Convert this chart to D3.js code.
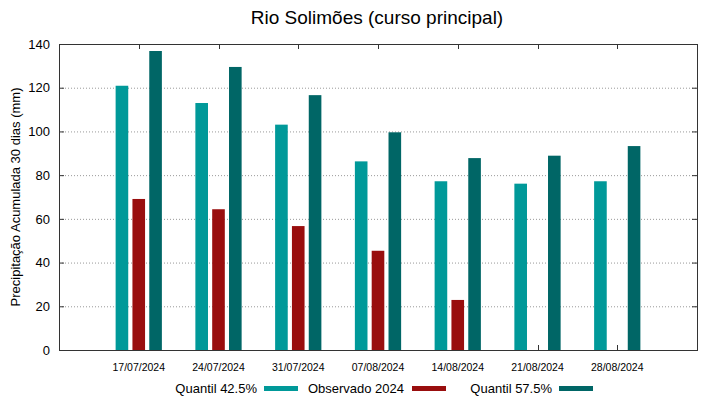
<!DOCTYPE html>
<html>
<head>
<meta charset="utf-8">
<script src="https://cdn.jsdelivr.net/npm/d3@7"></script>
<style>
  body { margin: 0; background: #fff; }
  svg { font-family: "Liberation Sans", Arial, sans-serif; }
</style>
</head>
<body>
<div id="chart"></div>
<script>
// Data
const dates = ['17/07/2024', '24/07/2024', '31/07/2024', '07/08/2024', '14/08/2024', '21/08/2024', '28/08/2024'];
const q425 = [120.9, 113.0, 103.1, 86.3, 77.2, 76.1, 77.2];
const observed = [69.1, 64.4, 56.7, 45.4, 22.9, null, null];
const q575 = [136.8, 129.5, 116.6, 99.6, 87.8, 88.9, 93.3];
const yTicks = [0, 20, 40, 60, 80, 100, 120, 140];

const series = [
  { name: 'Quantil 42.5%', values: q425, color: '#009999' },
  { name: 'Observado 2024', values: observed, color: '#990e0e' },
  { name: 'Quantil 57.5%', values: q575, color: '#006666' }
];

const width = 719;
const height = 399;
const margin = { top: 44, right: 22, bottom: 49, left: 59 };
const innerW = width - margin.left - margin.right;
const innerH = height - margin.top - margin.bottom;

const svg = d3.select('#chart')
  .append('svg')
  .attr('width', width)
  .attr('height', height);

// Scales: categories sit at 1..7 on a 0..8 axis
const x = d3.scaleLinear().domain([0, dates.length + 1]).range([margin.left, margin.left + innerW]);
const y = d3.scaleLinear().domain([0, 140]).range([margin.top + innerH, margin.top]);
const offset = d3.scaleBand().domain(d3.range(series.length)).range([-0.29, 0.29]).paddingInner(0.25);

// Title
svg.append('text')
  .attr('x', 377)
  .attr('y', 24)
  .attr('text-anchor', 'middle')
  .attr('font-size', 19)
  .attr('fill', '#000')
  .text('Rio Solimões (curso principal)');

// Grid
svg.append('g')
  .selectAll('line')
  .data(yTicks.filter(d => d > 0 && d < 140))
  .enter()
  .append('line')
  .attr('x1', margin.left)
  .attr('x2', margin.left + innerW)
  .attr('y1', d => y(d) + 0.5)
  .attr('y2', d => y(d) + 0.5)
  .attr('stroke', '#999')
  .attr('stroke-width', 1)
  .attr('stroke-dasharray', '1,2');

// Axes
const leftAxis = d3.axisLeft(y).tickValues(yTicks).tickSize(0).tickPadding(9);
svg.append('g')
  .attr('transform', `translate(${margin.left},0)`)
  .call(leftAxis)
  .call(g => g.select('.domain').remove())
  .selectAll('text')
  .attr('font-size', 13)
  .attr('font-family', '"Liberation Sans", Arial, sans-serif')
  .attr('fill', '#000');

// y ticks inward on both sides
const tickG = svg.append('g').attr('stroke', '#333').attr('stroke-width', 1);
yTicks.forEach(t => {
  tickG.append('line').attr('x1', margin.left).attr('x2', margin.left + 5).attr('y1', y(t) + 0.5).attr('y2', y(t) + 0.5);
  tickG.append('line').attr('x1', margin.left + innerW - 5).attr('x2', margin.left + innerW).attr('y1', y(t) + 0.5).attr('y2', y(t) + 0.5);
});
// x ticks inward top and bottom
dates.forEach((dd, i) => {
  const xp = Math.round(x(i + 1)) + 0.5;
  tickG.append('line').attr('x1', xp).attr('x2', xp).attr('y1', margin.top).attr('y2', margin.top + 5);
  tickG.append('line').attr('x1', xp).attr('x2', xp).attr('y1', margin.top + innerH).attr('y2', margin.top + innerH - 5);
});

// x labels
svg.append('g')
  .selectAll('text')
  .data(dates)
  .enter()
  .append('text')
  .attr('x', (d, i) => x(i + 1))
  .attr('y', 371)
  .attr('text-anchor', 'middle')
  .attr('font-size', 10.5)
  .attr('fill', '#000')
  .text(d => d);

// Bars
series.forEach((s, si) => {
  svg.append('g')
    .selectAll('rect')
    .data(s.values.map((v, i) => ({ v, i })).filter(d => d.v != null))
    .enter()
    .append('rect')
    .attr('x', d => x(d.i + 1 + offset(si)))
    .attr('width', x(offset.bandwidth()) - x(0))
    .attr('y', d => y(d.v))
    .attr('height', d => y(0) - y(d.v))
    .attr('fill', s.color);
});

// Frame
svg.append('rect')
  .attr('x', margin.left + 0.5)
  .attr('y', margin.top + 0.5)
  .attr('width', innerW)
  .attr('height', innerH)
  .attr('fill', 'none')
  .attr('stroke', '#333')
  .attr('stroke-width', 1);

// Y label
svg.append('text')
  .attr('transform', `translate(20,${margin.top + innerH / 2}) rotate(-90)`)
  .attr('text-anchor', 'middle')
  .attr('font-size', 13)
  .attr('fill', '#000')
  .text('Precipitação Acumulada 30 dias (mm)');

// Legend
const legendPos = [{ tx: 257, sx: 264 }, { tx: 404, sx: 412 }, { tx: 552, sx: 559 }];
const legend = svg.append('g');
series.forEach((s, i) => {
  legend.append('text')
    .attr('x', legendPos[i].tx)
    .attr('y', 393)
    .attr('text-anchor', 'end')
    .attr('font-size', 13)
    .attr('fill', '#000')
    .text(s.name);
  legend.append('rect')
    .attr('x', legendPos[i].sx)
    .attr('y', 386)
    .attr('width', 34)
    .attr('height', 5)
    .attr('fill', s.color);
});
</script>
</body>
</html>
